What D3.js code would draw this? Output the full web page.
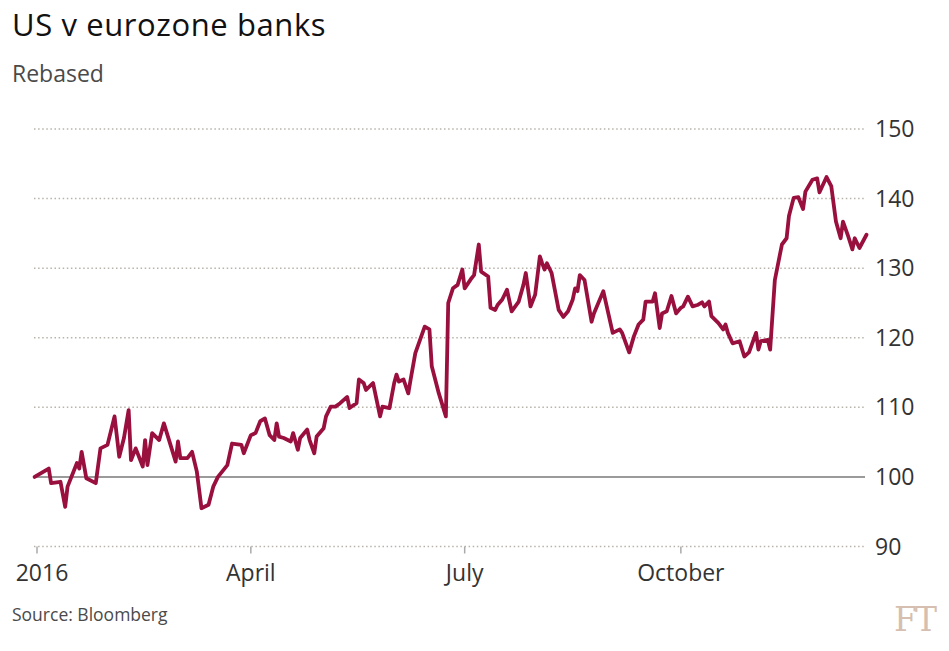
<!DOCTYPE html>
<html><head><meta charset="utf-8">
<script src="https://cdn.jsdelivr.net/npm/d3@7"></script>
<style>html,body{margin:0;padding:0;background:#fff;}svg{display:block;}</style>
</head><body>
<svg id="chart" width="949" height="651"></svg>
<script>
const dates = ["2015-12-31","2016-01-06","2016-01-07","2016-01-11","2016-01-13","2016-01-14","2016-01-18","2016-01-19","2016-01-20","2016-01-22","2016-01-26","2016-01-28","2016-01-31",
"2016-02-03","2016-02-05","2016-02-07","2016-02-09","2016-02-10","2016-02-12","2016-02-15","2016-02-16","2016-02-17","2016-02-19","2016-02-22","2016-02-24","2016-02-29",
"2016-03-01","2016-03-02","2016-03-05","2016-03-07","2016-03-09","2016-03-11","2016-03-14","2016-03-16","2016-03-18","2016-03-22","2016-03-24","2016-03-28","2016-03-29",
"2016-04-01","2016-04-03","2016-04-05","2016-04-07","2016-04-09","2016-04-11","2016-04-12","2016-04-13","2016-04-15","2016-04-18","2016-04-19","2016-04-21","2016-04-22","2016-04-25","2016-04-26","2016-04-28","2016-04-29",
"2016-05-02","2016-05-03","2016-05-05","2016-05-07","2016-05-09","2016-05-12","2016-05-13","2016-05-16","2016-05-17","2016-05-19","2016-05-20","2016-05-23","2016-05-26","2016-05-27","2016-05-30",
"2016-06-01","2016-06-02","2016-06-03","2016-06-05","2016-06-07","2016-06-08","2016-06-10","2016-06-14","2016-06-16","2016-06-17","2016-06-20","2016-06-23","2016-06-24","2016-06-26","2016-06-28","2016-06-30",
"2016-07-01","2016-07-04","2016-07-05","2016-07-07","2016-07-08","2016-07-11","2016-07-12","2016-07-14","2016-07-15","2016-07-17","2016-07-19","2016-07-21","2016-07-24","2016-07-26","2016-07-27","2016-07-29","2016-07-31",
"2016-08-02","2016-08-03","2016-08-04","2016-08-05","2016-08-07","2016-08-10","2016-08-12","2016-08-14","2016-08-16","2016-08-17","2016-08-18","2016-08-19","2016-08-21","2016-08-24","2016-08-25","2016-08-29","2016-08-30",
"2016-09-02","2016-09-05","2016-09-06","2016-09-09","2016-09-11","2016-09-13","2016-09-15","2016-09-16","2016-09-19","2016-09-20","2016-09-22","2016-09-23","2016-09-25","2016-09-27","2016-09-29",
"2016-10-01","2016-10-02","2016-10-04","2016-10-06","2016-10-08","2016-10-10","2016-10-11","2016-10-13","2016-10-14","2016-10-17","2016-10-19","2016-10-20","2016-10-21","2016-10-23","2016-10-26","2016-10-28","2016-10-30",
"2016-11-02","2016-11-03","2016-11-04","2016-11-07","2016-11-08","2016-11-10","2016-11-12","2016-11-13","2016-11-15","2016-11-16","2016-11-18","2016-11-20","2016-11-22","2016-11-23","2016-11-26","2016-11-28","2016-11-29",
"2016-12-02","2016-12-04","2016-12-06","2016-12-08","2016-12-09","2016-12-11","2016-12-13","2016-12-14","2016-12-16","2016-12-19"];
const values = [100,101.2,99.1,99.3,95.7,98.6,102.0,101.2,103.6,99.8,99.1,104.1,104.6,
108.7,102.9,105.6,109.6,102.4,104.1,101.5,105.3,101.7,106.3,105.3,107.7,102.2,
105.1,102.7,102.7,103.6,100.8,95.5,96.0,98.6,100.0,101.7,104.8,104.6,103.4,
106.0,106.3,108.0,108.4,106.0,105.3,107.7,105.8,105.6,105.1,106.3,103.9,105.6,106.8,105.3,103.4,105.8,
107.0,108.7,110.1,110.1,110.6,111.5,109.9,110.6,114.0,113.5,112.5,113.5,108.7,110.1,109.9,
113.5,114.7,113.7,114.0,112.0,114.0,117.8,121.6,121.2,115.9,112.0,108.7,125.0,127.1,127.6,129.8,
127.1,128.6,129.0,133.4,129.5,128.8,124.3,124.0,124.7,125.5,126.9,123.8,125.2,127.6,129.3,124.5,126.2,
131.7,130.7,129.8,130.7,129.3,124.0,123.0,123.8,125.5,127.1,126.7,129.0,128.3,122.3,123.5,126.7,125.2,
120.7,121.2,120.7,117.9,120.2,121.9,122.6,125.2,125.2,126.4,121.4,123.5,123.8,126.0,123.5,
124.3,124.5,125.9,124.5,124.7,125.1,124.5,125.2,123.1,122.1,121.2,121.9,120.7,119.2,119.5,117.3,117.9,
120.7,118.3,119.5,119.7,118.3,128.3,131.7,133.4,134.3,137.5,140.1,140.2,138.5,141.0,142.7,142.9,140.9,
143.1,141.8,136.7,134.3,136.7,134.8,132.7,134.3,132.9,134.8];
const yTicks = [90,100,110,120,130,140,150];
const xTickDates = ["2016-01-01","2016-04-01","2016-07-01","2016-10-01"];
const xTickLabels = ["2016","April","July","October"];
const title = "US v eurozone banks";
const subtitle = "Rebased";
const source = "Source: Bloomberg";

const parse = d3.utcParse("%Y-%m-%d");
const data = dates.map((d,i)=>({date:parse(d), value:values[i]}));

const svg = d3.select("#chart");
const font = "'Open Sans', sans-serif";
const x = d3.scaleUtc().domain([parse("2016-01-01"), parse("2016-12-19")]).range([37, 866.5]);
const y = d3.scaleLinear().domain([90,150]).range([546.5, 129]);
const gridX0 = 34, gridX1 = 865;

// gridlines
const grid = svg.append("g");
grid.selectAll("line").data(yTicks).join("line")
  .attr("x1", gridX0).attr("x2", gridX1)
  .attr("y1", d=>y(d)).attr("y2", d=>y(d))
  .attr("stroke", d=> d===100 ? "#9a9a9a" : "#b8b3aa")
  .attr("stroke-width", d=> d===100 ? 2 : 1.5)
  .attr("stroke-dasharray", d=> d===100 ? null : "1.5,2.6");

// y labels
svg.append("g").selectAll("text").data(yTicks).join("text")
  .attr("x", 875).attr("y", d=>y(d)+8)
  .attr("font-family", font).attr("font-size", 23).attr("fill", "#333")
  .text(d=>d);

// x ticks
const xt = xTickDates.map(parse);
svg.append("g").selectAll("line").data(xt).join("line")
  .attr("x1", d=>x(d)).attr("x2", d=>x(d))
  .attr("y1", y(90)).attr("y2", y(90)+7)
  .attr("stroke", "#aaa").attr("stroke-width", 1.5);
svg.append("g").selectAll("text").data(xt).join("text")
  .attr("x", (d,i)=>x(d) + (i===0 ? 5 : 0)).attr("y", 581)
  .attr("text-anchor","middle")
  .attr("font-family", font).attr("font-size", 23).attr("fill", "#333")
  .text((d,i)=>xTickLabels[i]);

// line
const line = d3.line().x(d=>x(d.date)).y(d=>y(d.value));
svg.append("path").datum(data)
  .attr("d", line).attr("fill","none")
  .attr("stroke","#990f3d").attr("stroke-width",3.8)
  .attr("stroke-linejoin","round").attr("stroke-linecap","round");

// titles
svg.append("text").attr("x",12).attr("y",36).attr("font-family",font).attr("font-size",31).attr("letter-spacing",0.6).attr("fill","#111").text(title);
svg.append("text").attr("x",12).attr("y",82).attr("font-family",font).attr("font-size",23).attr("fill","#4a4a4a").text(subtitle);
svg.append("text").attr("x",12).attr("y",621).attr("font-family",font).attr("font-size",17.5).attr("fill","#4a4a4a").text(source);
svg.append("text").attr("x",935).attr("y",631).attr("text-anchor","end").attr("font-family","'DejaVu Serif', 'Liberation Serif', serif").attr("font-size",33).attr("fill","#d6bfb0").attr("letter-spacing",-2).text("FT");
</script>
</body></html>
